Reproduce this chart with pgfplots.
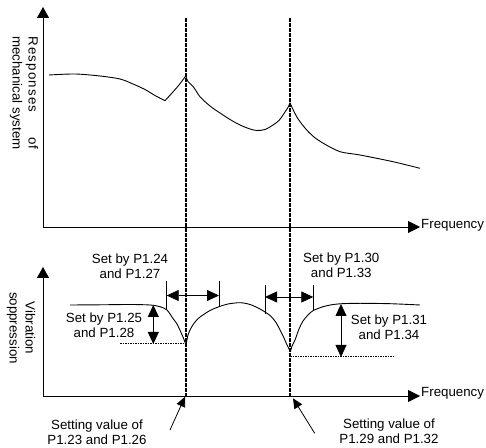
\documentclass[border=0pt]{standalone}
\usepackage{fontspec}
\setmainfont{Liberation Sans}
\usepackage{pgfplots}
\pgfplotsset{compat=1.18}
\usetikzlibrary{arrows.meta}
\begin{document}
\begin{tikzpicture}[
  font=\fontsize{13.3bp}{15bp}\selectfont,
  dbl/.style={line width=0.8bp,{Triangle[length=12bp,width=11bp]}-{Triangle[length=12bp,width=11bp]}},
  ptr/.style={line width=0.8bp,-{Triangle[length=10bp,width=9bp]}},
  lbl/.style={align=center,inner sep=0pt},
]
\begin{axis}[
  at={(0,0)}, anchor=south west,
  width=486bp, height=448bp, scale only axis,
  xmin=0, xmax=486, ymin=0, ymax=448,
  hide axis, clip=false,
]
\path (axis cs:0,0) rectangle (axis cs:486,448);
% ---------- axes ----------
\addplot[black, mark=none, line width=0.8bp, {Triangle[length=11bp,width=12bp]}-{Triangle[length=12bp,width=12bp]}]
  coordinates {(43,441) (43,221) (420,221)};
\addplot[black, mark=none, line width=0.8bp, {Triangle[length=11bp,width=12bp]}-{Triangle[length=12bp,width=12bp]}]
  coordinates {(43,181) (43,52) (420,52)};
% ---------- dashed vertical lines ----------
\addplot[black, mark=none, line width=2bp, dash pattern=on 1.8bp off 0.7bp] coordinates {(186,430) (186,51)};
\addplot[black, mark=none, line width=2bp, dash pattern=on 1.8bp off 0.7bp] coordinates {(290,430) (290,51)};
% ---------- mechanical response ----------
\addplot[black, mark=none, line width=0.9bp, smooth] coordinates {
 (49,373) (75,374) (100,372) (120,369) (133,364) (145,358.5) (155,352.5) (165,347.3)};
\addplot[black, mark=none, line width=0.9bp, smooth] coordinates {
 (165,347.3) (172,355) (179,363) (185.7,372)};
\addplot[black, mark=none, line width=0.9bp, smooth] coordinates {
 (185.7,372) (188,366.5) (193.3,361.3) (200,351.3) (210,342) (220,335) (230,328.5) (240,323)
 (250,319) (257,317.5) (265,318.5) (273,323) (279,327.5) (283,333) (286,337.5) (288.5,341.5) (290,345.3)};
\addplot[black, mark=none, line width=0.9bp, smooth] coordinates {
 (290,345.3) (293,338.5) (296.7,331.3) (301,325) (306.7,318) (314,311) (323.3,304.7) (340,296.3)
 (360,293) (393,286.3) (420,279.7)};
% ---------- vibration suppression ----------
\addplot[black, mark=none, line width=0.9bp, smooth] coordinates {
 (70,143) (100,143.2) (130,143.5) (150,143) (160,141.3) (167,138) (173,129.5) (177,124) (181,115.5) (184,108.5) (186,103)};
\addplot[black, mark=none, line width=0.9bp, smooth] coordinates {
 (186,103) (188,113) (191,120) (195,126) (200,131) (210,137.5) (219,141.3) (228,144) (240,145.3)
 (250,143.5) (260,139) (270,132.5) (276,125.5) (280,118) (284,110) (287,103) (290.5,96.3)};
\addplot[black, mark=none, line width=0.9bp, smooth] coordinates {
 (290.5,96.3) (292,102) (295,108) (299,119) (303,127) (308,133) (313,137.3) (323,141.3) (332,143.3)
 (342,144.3) (360,144.7) (390,144.3) (420,143)};
% ---------- horizontal dashed reference lines ----------
\addplot[black, mark=none, line width=1bp, dash pattern=on 1.5bp off 1bp] coordinates {(120,104) (186,104)};
\addplot[black, mark=none, line width=1bp, dash pattern=on 1.5bp off 1bp] coordinates {(290,91) (395,91)};
% ---------- ticks ----------
\addplot[black, mark=none, line width=0.7bp] coordinates {(166.7,167) (166.7,139)};
\addplot[black, mark=none, line width=0.7bp] coordinates {(219,167) (219,141.3)};
\addplot[black, mark=none, line width=0.7bp] coordinates {(265,163) (265,134)};
\addplot[black, mark=none, line width=0.7bp] coordinates {(313.3,163) (313.3,137.3)};
% ---------- double arrows ----------
\draw[dbl] (axis cs:166.7,152.5) -- (axis cs:219,152.5);
\draw[dbl] (axis cs:265,151) -- (axis cs:313.3,151);
\draw[dbl] (axis cs:153.3,143) -- (axis cs:153.3,104);
\draw[dbl] (axis cs:341,144) -- (axis cs:341,91);
% ---------- pointer arrows ----------
\draw[ptr] (axis cs:170,18) -- (axis cs:185,51.3);
\draw[ptr] (axis cs:314.7,14.7) -- (axis cs:293,49.7);
% ---------- texts ----------
\node[lbl] at (axis cs:130,181.5) {Set by P1.24\\and P1.27};
\node[lbl] at (axis cs:104,123) {Set by P1.25\\and P1.28};
\node[lbl] at (axis cs:341.3,182.7) {Set by P1.30\\and P1.33};
\node[lbl] at (axis cs:389,120.5) {Set by P1.31\\and P1.34};
\node[lbl] at (axis cs:97,15.5) {Setting value of\\P1.23 and P1.26};
\node[lbl] at (axis cs:389,16.3) {Setting value of\\P1.29 and P1.32};
\node[lbl, anchor=base west] at (axis cs:421,219) {Frequency};
\node[lbl, anchor=base west] at (axis cs:421,51) {Frequency};
\node[lbl, rotate=-90, font=\fontsize{13.3bp}{16bp}\selectfont] at (axis cs:24,355) {\makebox[113bp][s]{\addfontfeature{LetterSpace=9}Responses of}\\mechanical system};
\node[lbl, rotate=-90, font=\fontsize{13.3bp}{16bp}\selectfont] at (axis cs:21,120) {Vibration\\soppression};
\end{axis}
\end{tikzpicture}
\end{document}
